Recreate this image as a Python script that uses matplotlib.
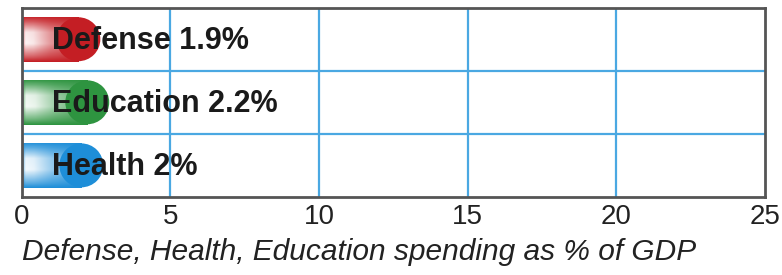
import numpy as np
import matplotlib
matplotlib.use("Agg")
import matplotlib.pyplot as plt
from matplotlib.colors import to_rgb
from matplotlib.patches import Rectangle

# datos
categorias = ["Defense", "Education", "Health"]
valores = [1.9, 2.2, 2.0]
colores = ["#c41e24", "#2e9440", "#1e8ed8"]
ticks_x = [0, 5, 10, 15, 20, 25]

plt.rcParams["font.family"] = ["Liberation Sans Narrow", "Liberation Sans", "DejaVu Sans"]

fig = plt.figure(figsize=(7.82, 2.75), dpi=100)
ax = fig.add_axes([0.028, 0.284, 0.95, 0.688])

alto = 0.72
y = np.arange(len(categorias))

for yi, nombre, valor, color in zip(y, categorias, valores, colores):
    rgb = np.array(to_rgb(color))
    # degradado tipo cilindro
    xs = np.linspace(0, 1, 200)
    h = np.interp(xs, [0.0, 0.06, 0.2, 0.5, 1.0], [0.3, 0.95, 0.9, 0.55, 0.2])
    ys = np.linspace(0, 1, 60)
    v = np.interp(ys, [0.0, 0.12, 0.35, 0.6, 0.88, 1.0], [0.0, 0.3, 0.95, 1.0, 0.35, 0.0])
    blanco = v[:, None] * h[None, :]
    img = (1 - blanco[:, :, None]) * rgb + blanco[:, :, None] * np.ones(3)
    im = ax.imshow(img, extent=[0, valor, yi + alto / 2, yi - alto / 2],
                   aspect="auto", interpolation="bilinear", zorder=2, origin="upper")
    clip = Rectangle((0, yi - alto / 2), valor, alto, transform=ax.transData)
    im.set_clip_path(clip)
    ax.scatter([valor], [yi], s=1000, color=color, edgecolors="none", zorder=3)
    ax.text(1.0, yi + 0.03, f"{nombre} {valor:g}%", fontsize=22, fontweight="bold",
            va="center", ha="left", color="#1a1a1a", zorder=4)

ax.set_xlim(0, 25)
ax.set_ylim(len(categorias) - 0.5, -0.5)
ax.set_xticks(ticks_x)
ax.set_xticklabels([str(t) for t in ticks_x], fontsize=20, color="#222222")
ax.set_yticks([])
ax.tick_params(axis="x", length=0, pad=5)

for xv in ticks_x[1:-1]:
    ax.axvline(xv, color="#4aa8e2", lw=1.6, zorder=1)
for yv in y[:-1] + 0.5:
    ax.axhline(yv, color="#4aa8e2", lw=1.6, zorder=1)

for s in ax.spines.values():
    s.set_color("#555555")
    s.set_linewidth(2)

ax.set_xlabel("Defense, Health, Education spending as % of GDP", fontsize=21.5,
              style="italic", loc="left", labelpad=6, color="#222222")

fig.savefig("out.png", dpi=100)
